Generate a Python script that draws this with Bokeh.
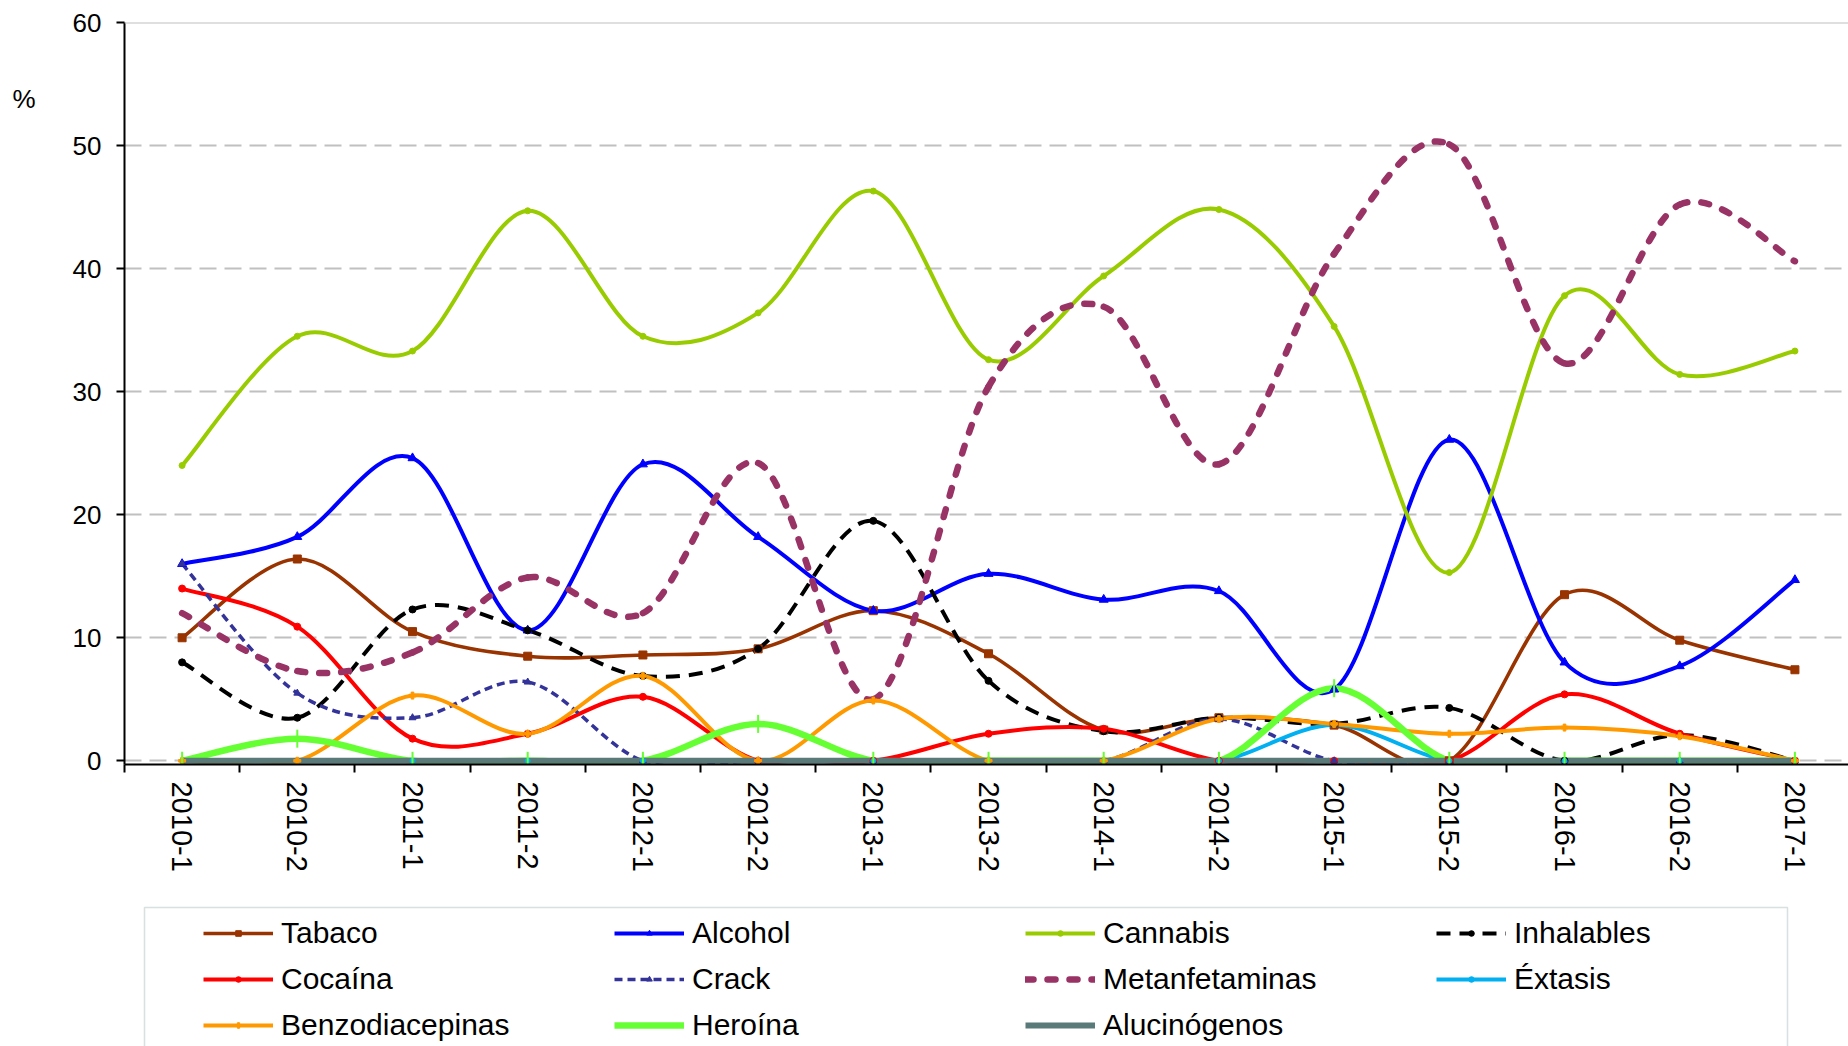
import numpy as np
from bokeh.plotting import figure
from bokeh.layouts import column
from bokeh.models import (Range1d, FixedTicker, Span, Legend, LegendItem, LinearAxis,
                          BoxAnnotation, ColumnDataSource)
from bokeh.embed import file_html
from bokeh.resources import INLINE

# ---------------- data ----------------
periods = ["2010-1", "2010-2", "2011-1", "2011-2", "2012-1", "2012-2", "2013-1", "2013-2",
           "2014-1", "2014-2", "2015-1", "2015-2", "2016-1", "2016-2", "2017-1"]
y_ticks = [0, 10, 20, 30, 40, 50, 60]
unit_label = "%"
unit_label_pos = 53.8

tabaco = [10.0, 16.4, 10.5, 8.5, 8.6, 9.1, 12.2, 8.7, 2.5, 3.5, 2.9, 0.0, 13.5, 9.8, 7.4]
alcohol = [16.0, 18.2, 24.6, 10.6, 24.1, 18.2, 12.2, 15.2, 13.1, 13.8, 5.8, 26.1, 8.0, 7.7, 14.7]
cannabis = [24.0, 34.5, 33.3, 44.7, 34.5, 36.4, 46.3, 32.6, 39.4, 44.8, 35.3, 15.3, 37.8, 31.4, 33.3]
inhalables = [8.0, 3.5, 12.3, 10.6, 6.9, 9.1, 19.5, 6.5, 2.4, 3.5, 3.0, 4.3, 0.0, 2.1, 0.0]
cocaina = [14.0, 10.9, 1.8, 2.2, 5.2, 0.0, 0.0, 2.2, 2.6, 0.0, 0.0, 0.0, 5.4, 2.2, 0.0]
crack = [16.0, 5.5, 3.5, 6.4, 0.0, 0.0, 0.0, 0.0, 0.0, 3.4, 0.0, 0.0, 0.0, 0.0, 0.0]
metanfetaminas = [12.0, 7.3, 8.8, 14.9, 12.0, 24.2, 5.0, 30.4, 36.9, 24.1, 41.2, 50.1, 32.3, 45.2, 40.6]
extasis = [0.0, 0.0, 0.0, 0.0, 0.0, 0.0, 0.0, 0.0, 0.0, 0.0, 2.9, 0.0, 0.0, 0.0, 0.0]
benzodiacepinas = [0.0, 0.0, 5.3, 2.2, 6.9, 0.0, 4.9, 0.0, 0.0, 3.4, 3.0, 2.2, 2.7, 2.0, 0.0]
heroina = [0.0, 1.8, 0.0, 0.0, 0.0, 3.0, 0.0, 0.0, 0.0, 0.0, 5.9, 0.0, 0.0, 0.0, 0.0]
alucinogenos = [0.0] * 15

FONT = "Liberation Sans"

n = len(periods)
xs = list(range(n))

# -------------- main chart ---------------
p = figure(width=1848, height=900, output_backend="svg", toolbar_location=None,
           x_range=Range1d(-0.5, 14.465), y_range=Range1d(-0.3, 60),
           min_border_left=124, min_border_right=0, min_border_top=22, min_border_bottom=136)
p.outline_line_color = None

p.xaxis.ticker = FixedTicker(ticks=xs, minor_ticks=[i - 0.5 for i in range(n + 1)])
p.xaxis.major_label_overrides = {i: s for i, s in enumerate(periods)}
p.xaxis.major_label_orientation = "vertical"
p.xaxis.major_tick_line_color = None
p.xaxis.major_tick_out = 0
p.xaxis.major_tick_in = 0
p.xaxis.minor_tick_out = 8
p.xaxis.minor_tick_in = 0
p.xaxis.minor_tick_line_color = "black"
p.xaxis.minor_tick_line_width = 2
p.xaxis.axis_line_color = "black"
p.xaxis.axis_line_width = 2
p.xaxis.major_label_text_font = FONT
p.xaxis.major_label_text_font_size = "29px"
p.xaxis.major_label_text_color = "black"
p.xaxis.major_label_standoff = 9

p.yaxis.ticker = FixedTicker(ticks=y_ticks, minor_ticks=[])
p.yaxis.major_tick_out = 8
p.yaxis.major_tick_in = 0
p.yaxis.major_tick_line_width = 2
p.yaxis.axis_line_width = 2
p.yaxis.axis_line_color = "black"
p.yaxis.minor_tick_line_color = None
p.yaxis.major_label_text_font = FONT
p.yaxis.major_label_text_font_size = "26px"
p.yaxis.major_label_text_color = "black"
p.yaxis.major_label_standoff = 15

# unit label "%" as an extra, line-less axis on the left
unit_axis = LinearAxis(ticker=FixedTicker(ticks=[unit_label_pos], minor_ticks=[]),
                       major_label_overrides={unit_label_pos: unit_label},
                       axis_line_color=None, major_tick_line_color=None,
                       minor_tick_line_color=None, major_tick_out=0, major_tick_in=0,
                       major_label_standoff=34, major_label_text_font=FONT,
                       major_label_text_font_size="26px", major_label_text_color="black")
p.add_layout(unit_axis, "left")

p.xgrid.visible = False
p.ygrid.ticker = FixedTicker(ticks=y_ticks)
p.ygrid.grid_line_color = "#c0c0c0"
p.ygrid.grid_line_width = 2
p.ygrid.grid_line_dash = "17 8"
p.add_layout(Span(location=y_ticks[-1], dimension="width", line_color="#c0c0c0", line_width=2))


def bezier_data(xv, yv):
    m = len(xv)
    d = dict(x0=[], y0=[], x1=[], y1=[], cx0=[], cy0=[], cx1=[], cy1=[])
    for i in range(m - 1):
        a = i - 1 if i > 0 else 0
        b = i + 2 if i + 2 < m else m - 1
        d["x0"].append(xv[i]); d["y0"].append(yv[i])
        d["x1"].append(xv[i + 1]); d["y1"].append(yv[i + 1])
        d["cx0"].append(xv[i] + (xv[i + 1] - xv[a]) / 6.0)
        d["cy0"].append(yv[i] + (yv[i + 1] - yv[a]) / 6.0)
        d["cx1"].append(xv[i + 1] - (xv[b] - xv[i]) / 6.0)
        d["cy1"].append(yv[i + 1] - (yv[b] - yv[i]) / 6.0)
    return ColumnDataSource(d)


series = [
    ("Tabaco", tabaco, "#993300", 3.6, "solid", "square", 8),
    ("Alcohol", alcohol, "#0000FF", 4, "solid", "triangle", 9),
    ("Cannabis", cannabis, "#99CC00", 4, "solid", "circle", 6),
    ("Inhalables", inhalables, "#000000", 4, "14 9", "circle", 7),
    ("Cocaína", cocaina, "#FF0000", 4, "solid", "circle", 7),
    ("Crack", crack, "#333399", 3.5, "8 5", "triangle", 7),
    ("Metanfetaminas", metanfetaminas, "#993366", 6.5, "8 14", "triangle", 5),
    ("Éxtasis", extasis, "#00B0F0", 4, "solid", "circle", 5),
    ("Benzodiacepinas", benzodiacepinas, "#FF9900", 4, "solid", "plus", 7),
    ("Heroína", heroina, "#66FF33", 6.5, "solid", "dash", 18),
    ("Alucinógenos", alucinogenos, "#5a7a7a", 6, "solid", None, 0),
]


def add_marker(fig, vals, color, marker, size):
    if marker is None:
        return None
    if marker == "dash":
        return fig.scatter(xs, vals, marker="dash", size=size, angle=np.pi / 2,
                           line_color=color, line_width=2, fill_color=color)
    return fig.scatter(xs, vals, marker=marker, size=size, line_color=color,
                       fill_color=color, line_width=1)


for name, vals, color, lw, dash, marker, size in series:
    p.bezier(x0="x0", y0="y0", x1="x1", y1="y1", cx0="cx0", cy0="cy0",
             cx1="cx1", cy1="cy1", source=bezier_data(xs, vals), line_color=color,
             line_width=lw, line_dash=dash,
             line_cap="round" if name == "Metanfetaminas" else "butt")
for name, vals, color, lw, dash, marker, size in series:
    add_marker(p, vals, color, marker, size)

# -------------- legend panel ---------------
p2 = figure(width=1848, height=146, output_backend="svg", toolbar_location=None,
            x_range=Range1d(1000, 1001), y_range=Range1d(1000, 1001),
            x_axis_type=None, y_axis_type=None,
            min_border_left=0, min_border_right=0, min_border_top=0, min_border_bottom=0)
p2.outline_line_color = None
p2.grid.visible = False

legend_items = {}
for name, vals, color, lw, dash, marker, size in series:
    rs = [p2.line(xs, vals, line_color=color, line_width=lw, line_dash=dash,
                  line_cap="round" if name == "Metanfetaminas" else "butt")]
    if name != "Metanfetaminas":
        m = add_marker(p2, vals, color, marker, size)
        if m is not None:
            rs.append(m)
    legend_items[name] = LegendItem(label=name, renderers=rs)

# column-major order so that rows read: Tabaco, Alcohol, Cannabis, Inhalables, ...
legend_order = ["Tabaco", "Cocaína", "Benzodiacepinas",
                "Alcohol", "Crack", "Heroína",
                "Cannabis", "Metanfetaminas", "Alucinógenos",
                "Inhalables", "Éxtasis"]

legend = Legend(items=[legend_items[k] for k in legend_order], location=(79, 4), ncols=4,
                label_text_font=FONT, label_text_font_size="30px",
                label_text_color="black", label_text_baseline="middle",
                glyph_width=70, glyph_height=14, label_height=34, label_width=321,
                label_standoff=8, spacing=12, padding=0, margin=0,
                border_line_color=None, background_fill_alpha=0)
p2.add_layout(legend)

p2.add_layout(BoxAnnotation(left=144, right=1787, top=7, bottom=170,
                            left_units="canvas", right_units="canvas",
                            top_units="canvas", bottom_units="canvas",
                            fill_alpha=0, fill_color=None,
                            line_color="#7f9c9c", line_width=1.5))

layout = column(p, p2, spacing=0)
open("out.html", "w").write(file_html(layout, INLINE))
